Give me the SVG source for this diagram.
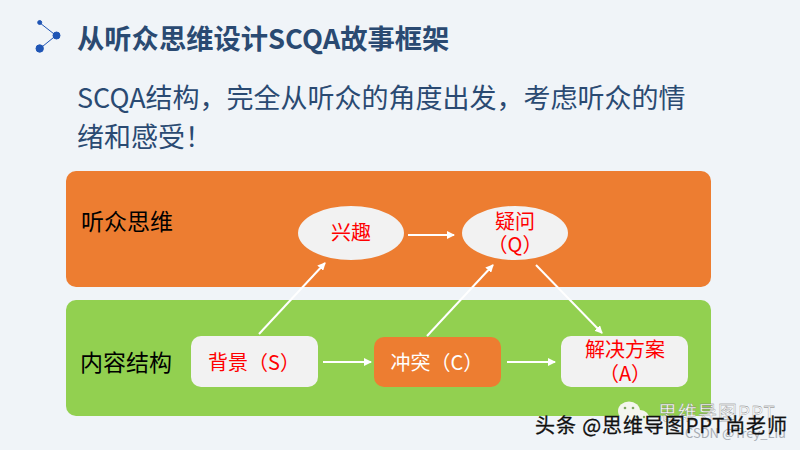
<svg xmlns="http://www.w3.org/2000/svg" width="800" height="450" viewBox="0 0 800 450">
<style>
text{font-family:"Noto Sans CJK SC","Liberation Sans",sans-serif}
.h{fill:#2a4a72}
.n{fill:#f2f2f2}
.r{fill:#ff0000;font-size:20px;text-anchor:middle}
.c{stroke:#fff;stroke-width:2;fill:none;marker-end:url(#a)}
.l{fill:#000;font-size:23px}
</style>
<defs><marker id="a" markerUnits="userSpaceOnUse" markerWidth="8" markerHeight="8" refX="7" refY="4" orient="auto"><path d="M0 0L8 4L0 8z" fill="#fff"/></marker></defs>
<rect width="800" height="450" fill="#f0f4f8"/>
<g id="logo" fill="#1f55b5" stroke="#1f55b5"><path d="M40 23L56 35.500L40 48.500" fill="none" stroke-width="1"/><circle cx="39.700" cy="22.500" r="2"/><circle cx="56.500" cy="35.500" r="3.500"/><circle cx="39.700" cy="48.500" r="3.700"/></g>
<text class="h" x="77" y="49" font-size="27.300" font-weight="700">从听众思维设计SCQA故事框架</text>
<text class="h" x="77" y="108" font-size="27">SCQA结构，完全从听众的角度出发，考虑听众的情</text>
<text class="h" x="77" y="147" font-size="27">绪和感受！</text>
<g id="band-top"><rect x="66" y="171" width="645" height="116" rx="10" fill="#ed7d31"/><text class="l" x="81" y="230">听众思维</text></g>
<g id="band-bottom"><rect x="66" y="300" width="645" height="116" rx="10" fill="#92d050"/><text class="l" x="80" y="371">内容结构</text></g>
<g id="n-interest"><ellipse class="n" cx="351" cy="233" rx="53" ry="27"/><text class="r" x="351" y="240">兴趣</text></g>
<g id="n-question"><ellipse class="n" cx="515" cy="233" rx="53" ry="27"/><text class="r" x="515" y="229">疑问</text><text class="r" x="515" y="252">（Q）</text></g>
<g id="n-s"><rect class="n" x="191" y="336" width="127" height="51" rx="10"/><text class="r" x="254" y="370">背景（S）</text></g>
<g id="n-c"><rect x="374" y="337" width="127" height="50" rx="10" fill="#ed7d31"/><text x="437" y="370" font-size="20" fill="#fff" text-anchor="middle">冲突（C）</text></g>
<g id="n-a"><rect class="n" x="561" y="336" width="127" height="51" rx="10"/><text class="r" x="625" y="357">解决方案</text><text class="r" x="625" y="381">（A）</text></g>
<g id="connectors">
<path class="c" d="M259 334L325 263"/><path class="c" d="M408 235L454 235"/><path class="c" d="M427 336L493 265"/><path class="c" d="M536 265L602 333"/><path class="c" d="M323 362L371 362"/><path class="c" d="M507 362L555 362"/>
</g>
<g id="watermark"><ellipse cx="629" cy="411" rx="11" ry="9.500" fill="#f4f6ee"/><ellipse cx="640.500" cy="419" rx="9" ry="9" fill="#f4f6ee"/><circle cx="625" cy="408" r="1.300" fill="#7fa860"/><circle cx="633" cy="408" r="1.300" fill="#7fa860"/><circle cx="637" cy="417" r="1.200" fill="#7fa860"/><circle cx="644" cy="417" r="1.200" fill="#7fa860"/><text x="658" y="420" font-size="19" fill="#fff" stroke="#777" stroke-width="0.300" textLength="117">思维导图PPT</text><text x="685" y="438" font-size="13" fill="#a8adb5" textLength="101">CSDN @Trey_Liu</text><text x="535" y="433" font-size="20" fill="#111" stroke="#111" stroke-width="0.300" textLength="252">头条 @思维导图PPT尚老师</text></g>
</svg>
